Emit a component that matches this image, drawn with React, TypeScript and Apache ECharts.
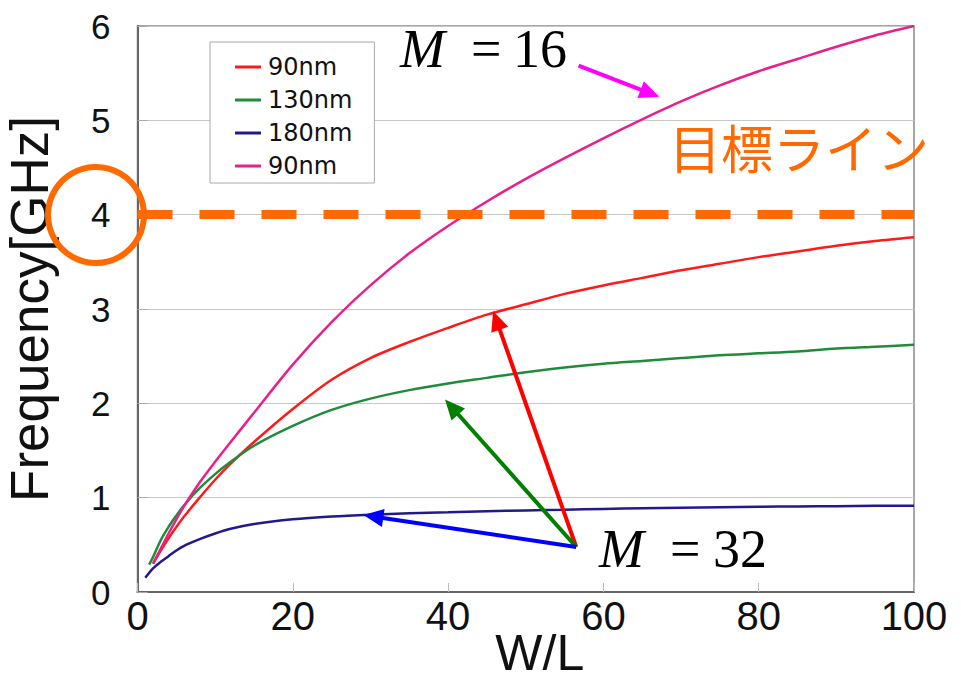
import React, { useEffect, useRef } from "react";
import * as echarts from "echarts";

const xTicks = [0, 20, 40, 60, 80, 100];
const yTicks = [0, 1, 2, 3, 4, 5, 6];

const seriesNames = ["90nm", "130nm", "180nm", "90nm "];
const seriesColors = ["#ff1a1a", "#1f8c3c", "#221a8c", "#e8208c"];

const wl90 = [2, 3, 4, 5, 6, 8, 10, 12, 15, 20, 25, 30, 35, 40, 45, 50, 55, 60, 65, 70, 75, 80, 85, 90, 95, 100];
const f90m32 = [0.3, 0.44, 0.57, 0.69, 0.8, 1.0, 1.19, 1.36, 1.59, 1.94, 2.25, 2.48, 2.65, 2.8, 2.94, 3.05, 3.16, 3.25, 3.33, 3.41, 3.48, 3.55, 3.61, 3.67, 3.72, 3.76];

const wl130 = [1.5, 2, 3, 4, 5, 6, 8, 10, 12, 15, 20, 25, 30, 35, 40, 45, 50, 55, 60, 65, 70, 75, 80, 85, 90, 95, 100];
const f130m32 = [0.29, 0.37, 0.55, 0.69, 0.81, 0.92, 1.1, 1.25, 1.38, 1.55, 1.76, 1.93, 2.05, 2.14, 2.21, 2.27, 2.33, 2.38, 2.42, 2.45, 2.48, 2.51, 2.53, 2.55, 2.58, 2.6, 2.62];

const wl180 = [1, 2, 3, 4, 5, 6, 8, 10, 12, 15, 20, 25, 30, 35, 40, 45, 50, 55, 60, 65, 70, 75, 80, 85, 90, 95, 100];
const f180m32 = [0.15, 0.25, 0.32, 0.38, 0.44, 0.49, 0.56, 0.62, 0.67, 0.72, 0.77, 0.8, 0.82, 0.835, 0.845, 0.856, 0.865, 0.873, 0.881, 0.888, 0.894, 0.899, 0.903, 0.907, 0.91, 0.913, 0.915];

const wl90b = [2, 3, 4, 5, 6, 8, 10, 12, 15, 20, 25, 30, 35, 40, 45, 50, 55, 60, 65, 70, 75, 80, 85, 90, 95, 100];
const f90m16 = [0.3, 0.46, 0.62, 0.77, 0.91, 1.16, 1.38, 1.59, 1.9, 2.41, 2.86, 3.25, 3.59, 3.88, 4.14, 4.38, 4.6, 4.81, 5.01, 5.2, 5.37, 5.52, 5.65, 5.78, 5.9, 6.0];

const targetLine = 4;

// arrows: [fromX, fromY] -> [toX, toY] in data units
const arrowFrom = [[56.8, 5.58], [56.5, 0.477], [56.5, 0.477], [56.5, 0.477]];
const arrowTo = [[67.2, 5.25], [45.8, 2.98], [39.6, 2.04], [29.1, 0.816]];
const arrowColors = ["#ff00ff", "#ff0000", "#008000", "#0000ff"];

const ORANGE = "#ff6a00";

const pairs = (xs: number[], ys: number[]) => xs.map((x, i) => [x, ys[i]]);

export default function App() {
  const ref = useRef<HTMLDivElement>(null);
  useEffect(() => {
    if (!ref.current) return;
    const chart = echarts.init(ref.current, undefined, { renderer: "svg" });
    const lineData = [
      pairs(wl90, f90m32),
      pairs(wl130, f130m32),
      pairs(wl180, f180m32),
      pairs(wl90b, f90m16),
    ];
    const arrowData = arrowFrom.map((f, i) => [f[0], f[1], arrowTo[i][0], arrowTo[i][1], i]);
    const serif = (txt: string, x: number, y: number, italic: boolean) => ({
      type: "text",
      x,
      y,
      style: {
        text: txt,
        fill: "#000",
        font: (italic ? "italic " : "") + "54px 'Liberation Serif'",
        verticalAlign: "middle",
      },
      z: 100,
    });
    const option: any = {
      animation: false,
      backgroundColor: "#ffffff",
      grid: {
        left: 137.5,
        right: 47,
        top: 26,
        bottom: 94,
        show: true,
        borderColor: "#8a8a8a",
        borderWidth: 1.5,
        backgroundColor: "transparent",
        outerBoundsMode: "none",
        containLabel: false,
      },
      legend: {
        data: seriesNames,
        orient: "vertical",
        left: 210,
        top: 42,
        padding: [13, 22, 5, 25],
        itemGap: 9,
        itemWidth: 26,
        itemHeight: 3,
        icon: "rect",
        backgroundColor: "#ffffff",
        borderColor: "#aaaaaa",
        borderWidth: 1,
        formatter: (n: string) => n.trim(),
        textStyle: { fontFamily: "DejaVu Sans", fontSize: 24, lineHeight: 24, color: "#111", padding: [0, 0, 0, 2] },
      },
      xAxis: {
        type: "value",
        min: 0,
        max: 100,
        interval: 20,
        name: "W/L",
        nameLocation: "middle",
        nameGap: 36,
        nameMoveOverlap: false,
        nameTextStyle: { fontFamily: "Liberation Sans", fontSize: 50, color: "#111", padding: [0, 0, 0, 28] },
        axisLine: { show: true, lineStyle: { color: "#666", width: 2 } },
        axisTick: { show: true, inside: true, length: 9, lineStyle: { color: "#bbb" } },
        splitLine: { show: false },
        axisLabel: {
          fontFamily: "Liberation Sans",
          fontSize: 40,
          color: "#111",
          margin: 4,
          formatter: (v: number) => (xTicks.includes(v) ? String(v) : ""),
        },
      },
      yAxis: {
        type: "value",
        min: 0,
        max: 6,
        interval: 1,
        name: "Frequency[GHz]",
        nameLocation: "middle",
        nameGap: 82,
        nameMoveOverlap: false,
        nameTextStyle: { fontFamily: "Liberation Sans", fontSize: 53, color: "#111" },
        axisLine: { show: true, lineStyle: { color: "#666", width: 2 } },
        axisTick: { show: true, inside: true, length: 10, lineStyle: { color: "#aaa" } },
        splitLine: { show: true, lineStyle: { color: "#c8c8c8", width: 1 } },
        axisLabel: {
          fontFamily: "Liberation Sans",
          fontSize: 35,
          color: "#111",
          margin: 27,
          formatter: (v: number) => (yTicks.includes(v) ? String(v) : ""),
        },
      },
      series: [
        ...lineData.map((d, i) => ({
          name: seriesNames[i],
          type: "line",
          data: d,
          smooth: 0.3,
          showSymbol: false,
          symbol: "none",
          lineStyle: { color: seriesColors[i], width: 2.5 },
          itemStyle: { color: seriesColors[i] },
          z: 3,
        })),
        {
          name: "target",
          type: "line",
          data: [],
          markLine: {
            silent: true,
            symbol: ["none", "none"],
            label: { show: false },
            lineStyle: { color: ORANGE, width: 9, type: [35, 27] },
            data: [{ yAxis: targetLine }],
          },
          z: 4,
        },
        {
          name: "arrows",
          type: "custom",
          data: arrowData,
          encode: { x: [0, 2], y: [1, 3] },
          clip: false,
          z: 6,
          renderItem: (params: any, api: any) => {
            const p1 = api.coord([api.value(0), api.value(1)]);
            const p2 = api.coord([api.value(2), api.value(3)]);
            const color = arrowColors[api.value(4)];
            const dx = p2[0] - p1[0];
            const dy = p2[1] - p1[1];
            const len = Math.sqrt(dx * dx + dy * dy);
            const ux = dx / len;
            const uy = dy / len;
            const hl = 20;
            const hw = 9;
            const bx = p2[0] - ux * hl;
            const by = p2[1] - uy * hl;
            return {
              type: "group",
              children: [
                {
                  type: "line",
                  shape: { x1: p1[0], y1: p1[1], x2: bx + ux * 2, y2: by + uy * 2 },
                  style: { stroke: color, lineWidth: 4 },
                },
                {
                  type: "polygon",
                  shape: {
                    points: [
                      [p2[0], p2[1]],
                      [bx - uy * hw, by + ux * hw],
                      [bx + uy * hw, by - ux * hw],
                    ],
                  },
                  style: { fill: color },
                },
              ],
            };
          },
        },
      ],
      graphic: [
        {
          type: "circle",
          shape: { cx: 96, cy: 215, r: 48 },
          style: { fill: "none", stroke: ORANGE, lineWidth: 6 },
          z: 100,
        },
        {
          type: "text",
          x: 669,
          y: 146,
          style: {
            text: "目標ライン",
            fill: ORANGE,
            font: "52px 'Noto Sans CJK JP'",
            verticalAlign: "middle",
            align: "left",
          },
          z: 100,
        },
        serif("M", 400, 49, true),
        serif("=", 471, 49, false),
        serif("16", 513, 49, false),
        serif("M", 599, 549, true),
        serif("=", 670, 549, false),
        serif("32", 713, 549, false),
      ],
    };
    chart.setOption(option);
    return () => chart.dispose();
  }, []);
  return (
    <div
      ref={ref}
      style={{ position: "absolute", left: 0, top: 0, width: 961, height: 686, background: "#fff" }}
    />
  );
}
